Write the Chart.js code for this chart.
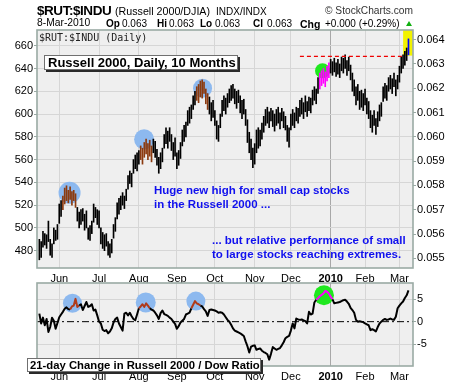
<!DOCTYPE html>
<html><head><meta charset="utf-8">
<script src="https://cdn.jsdelivr.net/npm/chart.js@4.4.0/dist/chart.umd.min.js"></script>
<style>
html,body{margin:0;padding:0;background:#fff;}
#wrap{position:relative;width:460px;height:383px;overflow:hidden;font-family:'Liberation Sans',Arial,sans-serif;color:#000;}
.t{position:absolute;white-space:nowrap;line-height:1;}
canvas{position:absolute;left:0;}
.box{position:absolute;box-sizing:border-box;background:#fff;border:1px solid #707070;box-shadow:2px 2px 0 #2a2a2a;white-space:nowrap;font-weight:bold;}
.note{position:absolute;white-space:nowrap;color:#1010ee;font-weight:bold;font-size:11.5px;line-height:13.3px;}
</style></head><body>
<div id="wrap">
<canvas id="main" width="460" height="284" style="top:0;width:460px;height:284px"></canvas>
<canvas id="sub" width="460" height="111" style="top:272px;width:460px;height:111px"></canvas>

<div class="t" style="left:37px;top:3.5px;font-size:13.5px;font-weight:bold;letter-spacing:-0.45px;">$RUT:$INDU</div>
<div class="t" style="left:115px;top:6px;font-size:10.7px;">(Russell 2000/DJIA)</div>
<div class="t" style="left:216px;top:6.5px;font-size:10px;">INDX/INDX</div>
<div class="t" style="left:325px;top:6.4px;font-size:10.2px;color:#333;">© StockCharts.com</div>

<div class="t" style="left:37px;top:18.3px;font-size:10.3px;">8-Mar-2010</div>
<div class="t" style="left:106px;top:18.5px;font-size:10px;font-weight:bold;">Op</div>
<div class="t" style="left:122px;top:18.5px;font-size:10px;">0.063</div>
<div class="t" style="left:157px;top:18.5px;font-size:10px;font-weight:bold;">Hi</div>
<div class="t" style="left:169px;top:18.5px;font-size:10px;">0.063</div>
<div class="t" style="left:200px;top:18.5px;font-size:10px;font-weight:bold;">Lo</div>
<div class="t" style="left:215px;top:18.5px;font-size:10px;">0.063</div>
<div class="t" style="left:253px;top:18.5px;font-size:10px;font-weight:bold;">Cl</div>
<div class="t" style="left:267px;top:18.5px;font-size:10px;">0.063</div>
<div class="t" style="left:300px;top:18.5px;font-size:10.5px;font-weight:bold;">Chg</div>
<div class="t" style="left:325px;top:18.5px;font-size:10px;">+0.000 (+0.29%)</div>
<div style="position:absolute;left:406px;top:21px;width:0;height:0;border-left:3.5px solid transparent;border-right:3.5px solid transparent;border-bottom:5px solid #10b010;"></div>

<div class="t" style="left:39px;top:31.5px;font:10px 'DejaVu Sans Mono',monospace;color:#222;">$RUT:$INDU (Daily)</div>

<div class="box" style="left:44px;top:55px;width:194px;height:15px;font-size:13px;line-height:13px;padding-left:3px;">Russell 2000, Daily, 10 Months</div>

<div class="note" style="left:154px;top:184.3px;">Huge new high for small cap stocks<br>in the Russell 2000 ...</div>
<div class="note" style="left:212px;top:234.3px;">... but relative performance of small<br>to large stocks reaching extremes.</div>

<div class="box" style="left:27px;top:358px;width:234px;height:14px;font-size:11.3px;line-height:12px;padding-left:2px;">21-day Change in Russell 2000 / Dow Ratio</div>
</div>

<script>
// ---------- DATA ----------
const monthLabels   = ['Jun','Jul','Aug','Sep','Oct','Nov','Dec','2010','Feb','Mar'];
const monthStartDay = [11, 33, 55, 76, 97, 119, 139, 161, 180, 199];

// Russell 2000 daily lows / highs (trading days from mid-May 2009 to 8-Mar-2010)
const rutLow = [
 472,474,483,485,482,488,476,474,486,489,
 490,504,510,516,521,524,522,525,520,524,
 518,506,500,503,506,498,500,490,489,495,
 505,509,503,500,486,482,480,484,476,474,
 478,491,497,508,512,516,520,517,524,534,
 539,536,548,552,550,556,560,556,562,565,
 560,563,558,566,562,555,548,552,558,570,
 574,570,576,568,560,563,552,555,561,572,
 576,580,590,592,596,604,608,612,610,615,
 614,618,609,604,600,594,597,590,578,576,
 588,598,603,600,606,610,612,614,609,605,
 610,601,596,600,590,575,566,560,553,556,
 566,570,572,578,584,590,592,588,594,589,
 585,590,592,587,594,588,586,576,571,586,
 590,588,594,592,598,600,596,602,598,603,
 601,608,612,609,618,622,625,627,624,629,
 632,636,634,637,633,635,632,638,636,640,
 634,638,630,620,616,608,612,604,606,603,
 608,600,596,588,584,590,582,589,594,598,
 611,614,612,620,622,618,624,616,622,628,
 636,640,643,647,652];
const rutHigh = [
 490,488,497,495,494,506,490,486,500,498,
 503,521,524,528,535,537,533,536,532,533,
 530,518,514,516,517,512,515,500,502,506,
 521,518,516,515,500,496,494,495,488,486,
 490,503,509,522,526,528,531,528,534,546,
 550,548,560,564,566,568,572,570,575,578,
 574,577,572,578,576,569,562,566,570,582,
 588,585,588,582,575,579,566,568,575,586,
 590,593,603,606,608,616,620,624,626,629,
 630,628,622,618,615,610,612,603,594,590,
 600,612,616,614,618,622,625,626,622,620,
 621,616,612,613,604,595,584,578,570,574,
 586,588,586,592,598,604,606,602,605,603,
 600,604,606,601,605,602,598,590,588,600,
 604,601,606,605,612,614,610,616,611,615,
 614,621,624,622,632,636,638,640,637,642,
 645,648,646,649,645,648,644,650,649,652,
 647,650,643,636,630,624,626,620,621,618,
 622,614,611,603,599,603,596,602,608,610,
 624,627,625,632,634,631,636,630,634,642,
 650,652,655,658,666];

// 21-day % change in Russell 2000 / Dow ratio
const changePct = [
 1.8,-0.4,0.9,-0.8,0.6,-2.3,-1.2,0.9,0.2,-1.6,
 -0.3,1.0,1.6,2.2,2.9,3.2,2.8,2.7,3.4,3.6,
 5.1,3.3,3.6,3.9,2.6,3.5,4.4,3.3,3.5,3.9,
 2.5,2.7,1.4,0.0,-0.4,-1.8,-2.1,-1.9,-2.6,-2.2,
 -1.5,-0.2,0.6,0.9,-0.4,-1.2,-2.0,1.8,2.0,1.4,
 2.0,1.2,0.6,0.3,1.6,3.0,3.4,3.9,3.3,4.1,
 3.6,3.0,2.7,2.5,2.0,1.4,0.6,1.9,2.5,1.7,
 1.5,1.3,0.9,0.6,0.0,-0.5,-1.6,-1.0,-0.2,0.2,
 0.6,1.6,1.8,2.0,3.0,3.8,4.6,4.1,3.9,3.6,
 3.4,2.8,2.3,1.3,2.6,2.7,2.6,2.5,2.3,2.0,
 2.1,2.0,1.6,1.0,0.4,0.0,-0.7,-1.5,-2.0,-2.2,
 -2.4,-2.6,-2.9,-3.2,-4.4,-5.5,-6.9,-5.6,-5.4,-5.3,
 -6.3,-6.1,-6.0,-6.5,-6.8,-7.0,-7.3,-8.5,-7.2,-5.7,
 -6.0,-6.3,-6.1,-5.9,-5.3,-4.6,-3.7,-3.4,-3.2,-2.0,
 -0.4,-1.5,0.7,0.5,0.4,0.5,0.3,0.1,-0.4,2.2,
 1.6,1.8,4.3,4.9,5.2,5.7,6.0,6.3,6.9,6.7,
 6.3,5.6,5.0,4.1,4.2,4.3,4.4,4.6,4.8,4.9,
 4.5,4.0,3.1,2.6,2.0,0.4,0.0,0.1,0.0,-0.1,
 -0.4,-0.6,-0.8,-1.9,-1.7,-1.9,-2.2,-1.2,-0.4,0.0,
 0.4,0.6,0.4,0.5,0.7,0.5,0.4,1.1,3.0,3.6,
 4.1,4.5,5.3,5.9,7.0];

// Annotation values (day index / price level)
const resistanceLevel = 650.7;
const resistanceFromDay = 144, resistanceToDay = 202;
const mainBlueMarks  = [{x:16.7,y:530.9,r:11},{x:57.9,y:577.8,r:10},{x:90.2,y:622.6,r:9.5}];
const mainGreenMarks = [{x:156.5,y:638,r:7.5}];
const subBlueMarks   = [{x:18.3,y:4.1,r:9.5},{x:58.8,y:4.3,r:10},{x:86.5,y:4.6,r:9.5}];
const subGreenMarks  = [{x:157.3,y:5.9,r:10}];
const lastBarBox     = [{x:203.7,y:[651.6,690]}];

// ---------- STYLE ----------
const BLUE_HL = [[13,20],[56,62],[87,93]];
const GREEN_HL = [[155,160]];
const SUB_BLUE_HL = [[17,21],[55,60],[84,88]];
const SUB_GREEN_HL = [[153,161]];
const inR = (i, r) => r.some(([a,b]) => i >= a && i <= b);
const X_MIN = -1.3, X_MAX = 206.5;
const GRID = '#d6d6d6', GRID_2010 = '#a8a8a8', FRAME = '#9aaaa4';

Chart.defaults.font.family = "'Liberation Sans', Arial, sans-serif";
Chart.defaults.font.size = 11;
Chart.defaults.color = '#000';

const panelPlugin = {
  id: 'panel',
  beforeDraw(chart) {
    const {ctx, chartArea: a} = chart;
    ctx.save(); ctx.fillStyle = '#efefef';
    ctx.fillRect(a.left, a.top, a.right - a.left, a.bottom - a.top);
    ctx.restore();
  },
  afterDraw(chart) {
    const {ctx, chartArea: a} = chart;
    ctx.save(); ctx.strokeStyle = FRAME; ctx.lineWidth = 1.6;
    ctx.strokeRect(a.left, a.top, a.right - a.left, a.bottom - a.top);
    ctx.restore();
  }
};

function xAxis(h) {
  return {
    type: 'linear', min: X_MIN, max: X_MAX, offset: false,
    afterBuildTicks: s => { s.ticks = monthStartDay.map(v => ({value: v})); },
    afterFit: s => { s.height = h; },
    grid: { offset: false, color: c => monthLabels[c.index] === '2010' ? GRID_2010 : GRID, drawTicks: false },
    border: { display: false },
    ticks: {
      autoSkip: false, maxRotation: 0, minRotation: 0, padding: 4,
      font: c => ({ size: 11, weight: monthLabels[c.index] === '2010' ? 'bold' : 'normal' }),
      callback: (v, i) => monthLabels[i]
    }
  };
}

const days = rutHigh.map((_, i) => i);
const barData = days.map(i => ({x: i, y: [rutLow[i], rutHigh[i]]}));
const lastDay = days.length - 1;

new Chart(document.getElementById('main'), {
  type: 'bar',
  data: { datasets: [
    { type: 'bubble', data: mainBlueMarks, backgroundColor: '#8db9ef', borderWidth: 0, order: 6, xAxisID: 'x', yAxisID: 'y' },
    { type: 'bubble', data: mainGreenMarks, backgroundColor: '#1fe81f', borderWidth: 0, order: 6, xAxisID: 'x', yAxisID: 'y' },
    { type: 'bar', data: lastBarBox, backgroundColor: '#f2f200', barThickness: 9, grouped: false, order: 5, xAxisID: 'x', yAxisID: 'y' },
    { type: 'bar', data: barData, barThickness: 1, grouped: false, order: 2, xAxisID: 'x', yAxisID: 'y',
      backgroundColor: c => {
        const i = c.dataIndex;
        if (i === lastDay) return '#0000ff';
        if (inR(i, GREEN_HL)) return '#ff00ff';
        if (inR(i, BLUE_HL)) return '#8b3a0f';
        return '#000';
      } },
    { type: 'line', data: [{x: resistanceFromDay, y: resistanceLevel}, {x: resistanceToDay, y: resistanceLevel}],
      borderColor: '#ee0000', borderWidth: 1.2, borderDash: [4, 3], pointRadius: 0, order: 1, xAxisID: 'x', yAxisID: 'y' }
  ]},
  options: {
    responsive: false, animation: false, devicePixelRatio: 1,
    layout: { autoPadding: false, padding: { top: 30, left: 0, right: 0, bottom: 0 } },
    plugins: { legend: { display: false }, tooltip: { enabled: false } },
    scales: {
      x: xAxis(16),
      y: { position: 'left', min: 464.8, max: 673.8,
           afterFit: s => { s.width = 37; },
           ticks: { stepSize: 20, includeBounds: false, padding: 1 },
           grid: { color: GRID, tickColor: FRAME, tickLength: 3 },
           border: { display: false } },
      y2: { position: 'right', min: 0.0546, max: 0.0644,
           afterFit: s => { s.width = 47; },
           ticks: { stepSize: 0.001, includeBounds: false, padding: 1, callback: v => v.toFixed(3) },
           grid: { drawOnChartArea: false, tickColor: FRAME, tickLength: 3 },
           border: { display: false } }
    }
  },
  plugins: [panelPlugin]
});

const changeData = days.map(i => ({x: i, y: changePct[i]}));

new Chart(document.getElementById('sub'), {
  type: 'line',
  data: { datasets: [
    { type: 'bubble', data: subBlueMarks, backgroundColor: '#8db9ef', borderWidth: 0, order: 6 },
    { type: 'bubble', data: subGreenMarks, backgroundColor: '#1fe81f', borderWidth: 0, order: 6 },
    { type: 'line', data: [{x: X_MIN, y: 0}, {x: X_MAX, y: 0}], borderColor: '#000', borderWidth: 1,
      borderDash: [7, 3, 2, 3], pointRadius: 0, order: 3 },
    { type: 'line', data: changeData, borderColor: '#000', borderWidth: 2, pointRadius: 0, tension: 0,
      borderJoinStyle: 'round', order: 1,
      segment: { borderColor: c => {
        const i = c.p0DataIndex;
        if (inR(i, SUB_GREEN_HL)) return '#ff00ff';
        if (inR(i, SUB_BLUE_HL)) return '#b03a1a';
        return undefined;
      } } }
  ]},
  options: {
    responsive: false, animation: false, devicePixelRatio: 1,
    layout: { autoPadding: false, padding: { top: 11, left: 37, right: 0, bottom: 0 } },
    plugins: { legend: { display: false }, tooltip: { enabled: false } },
    scales: {
      x: xAxis(17),
      y: { position: 'right', min: -9.92, max: 8.65,
           afterFit: s => { s.width = 47; },
           ticks: { stepSize: 5, includeBounds: false, padding: 1 },
           grid: { color: c => (c.tick && c.tick.value === 0) ? 'rgba(0,0,0,0)' : GRID, tickColor: FRAME, tickLength: 3 },
           border: { display: false } }
    }
  },
  plugins: [panelPlugin]
});
</script>
</body></html>
